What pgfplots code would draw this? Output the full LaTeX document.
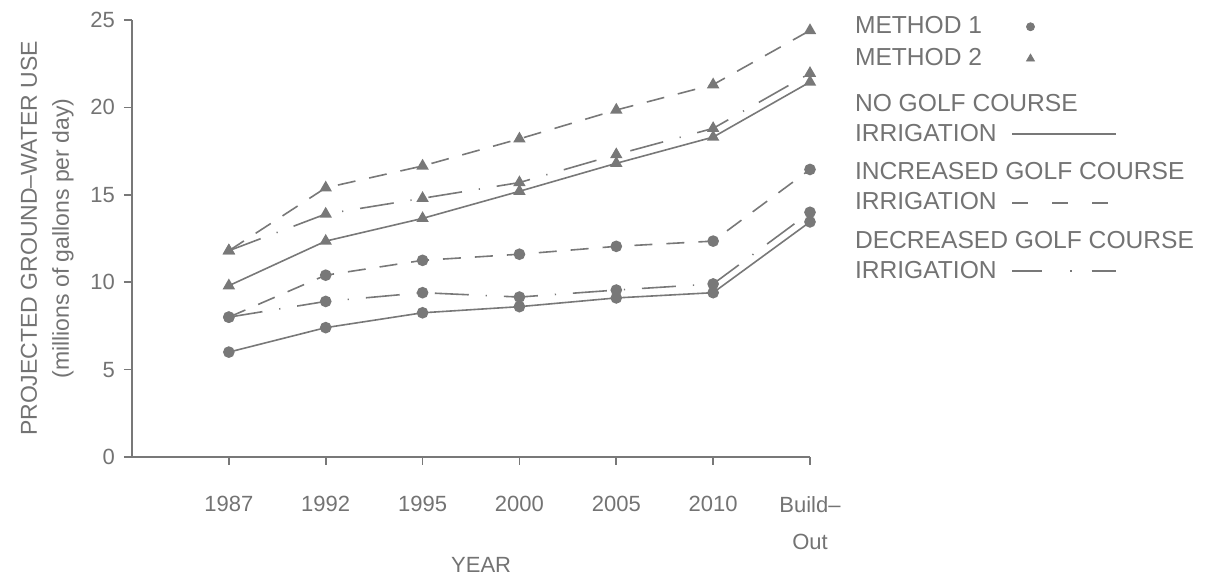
\documentclass[border=0pt]{standalone}
\usepackage{fontspec}
\setmainfont{Liberation Sans}
\usepackage{pgfplots}
\pgfplotsset{compat=1.18}
\definecolor{gcol}{RGB}{120,120,120}
\definecolor{tcol}{RGB}{115,115,115}
\begin{document}
\begin{tikzpicture}
\begin{axis}[
 name=ax,
 scale only axis, width=339pt, height=218.5pt,
 xmin=-1, xmax=6, ymin=0, ymax=25,
 axis lines*=left,
 axis line style={gcol, line width=1pt},
 every tick/.style={gcol, line width=0.8pt},
 tick align=outside, major tick length=4pt,
 xtick={0,...,6},
 xticklabels={1987,1992,1995,2000,2005,2010,{Build--\\Out}},
 ytick={0,5,10,15,20,25},
 /pgf/number format/assume math mode=true,
 ticklabel style={font=\fontsize{11}{18.5}\selectfont, text=tcol},
 xticklabel style={align=center, yshift=-12pt},
 yticklabel style={xshift=-1pt},
 xlabel={YEAR},
 xlabel style={at={(axis description cs:0.515,-0.247)}, anchor=center, font=\fontsize{11}{13}\selectfont, text=tcol},
 ylabel={PROJECTED GROUND--WATER USE\\(millions of gallons per day)},
 ylabel style={at={(axis description cs:-0.125,0.5)}, anchor=center, align=center, font=\fontsize{11.5}{16}\selectfont, text=tcol},
 clip=false,
 legend plot pos=right,
 legend cell align=left,
 legend style={at={(axis description cs:1.0664,1.012)}, anchor=north west, draw=none, fill=none,
   inner sep=0pt, outer sep=0pt, row sep=0pt, column sep=7.5pt,
   font=\fontsize{12.3}{15}\selectfont, text=tcol, nodes={inner sep=0pt, outer sep=0pt}},
]
% legend
\addlegendimage{legend image code/.code={\path (0pt,-5pt) (52pt,5pt); \draw[gcol, mark=*, mark size=2pt, mark options={fill=gcol}] plot coordinates {(9pt,0pt)};}}
\addlegendentry[minimum height=12pt]{METHOD 1}
\addlegendimage{legend image code/.code={\path (0pt,-5pt) (52pt,5pt); \draw[gcol, mark=triangle*, mark size=2.3pt, mark options={fill=gcol}] plot coordinates {(9pt,0pt)};}}
\addlegendentry[minimum height=20pt]{METHOD 2}
\addlegendimage{legend image code/.code={\path (0pt,7.5pt); \draw[gcol, line width=0.8pt] (0pt,-7.5pt) -- (52pt,-7.5pt);}}
\addlegendentry[minimum height=40.5pt, align=left]{\rlap{NO GOLF COURSE}\\IRRIGATION}
\addlegendimage{legend image code/.code={\path (0pt,7.5pt); \draw[gcol, line width=0.8pt, dash pattern=on 8pt off 12pt] (0pt,-7.5pt) -- (52pt,-7.5pt);}}
\addlegendentry[minimum height=28pt, align=left]{\rlap{INCREASED GOLF COURSE}\\IRRIGATION}
\addlegendimage{legend image code/.code={\path (0pt,7.5pt); \draw[gcol, line width=0.8pt, dash pattern=on 15pt off 14pt on 0.6pt off 10pt] (0pt,-7.5pt) -- (52pt,-7.5pt);}}
\addlegendentry[minimum height=40.5pt, align=left]{\rlap{DECREASED GOLF COURSE}\\IRRIGATION}
% Method 2 (triangles)
\addplot[forget plot, gcol, line width=0.8pt, dash pattern=on 9pt off 7pt, mark=triangle*, mark size=2.8pt, mark options={solid, fill=gcol}]
 coordinates {(0,11.8) (1,15.4) (2,16.65) (3,18.2) (4,19.85) (5,21.3) (6,24.4)};
\addplot[forget plot, gcol, line width=0.8pt, dash pattern=on 17pt off 8.5pt on 0.6pt off 8.5pt, mark=triangle*, mark size=2.8pt, mark options={solid, fill=gcol}]
 coordinates {(0,11.8) (1,13.9) (2,14.8) (3,15.7) (4,17.3) (5,18.8) (6,21.95)};
\addplot[forget plot, gcol, line width=0.8pt, mark=triangle*, mark size=2.8pt, mark options={solid, fill=gcol}]
 coordinates {(0,9.8) (1,12.35) (2,13.65) (3,15.2) (4,16.8) (5,18.3) (6,21.45)};
% Method 1 (circles)
\addplot[forget plot, gcol, line width=0.8pt, dash pattern=on 9pt off 7pt, mark=*, mark size=2.5pt, mark options={solid, fill=gcol}]
 coordinates {(0,8.0) (1,10.4) (2,11.25) (3,11.6) (4,12.05) (5,12.35) (6,16.45)};
\addplot[forget plot, gcol, line width=0.8pt, dash pattern=on 17pt off 8.5pt on 0.6pt off 8.5pt, mark=*, mark size=2.5pt, mark options={solid, fill=gcol}]
 coordinates {(0,8.0) (1,8.9) (2,9.4) (3,9.15) (4,9.55) (5,9.9) (6,14.0)};
\addplot[forget plot, gcol, line width=0.8pt, mark=*, mark size=2.5pt, mark options={solid, fill=gcol}]
 coordinates {(0,6.0) (1,7.4) (2,8.25) (3,8.6) (4,9.1) (5,9.4) (6,13.45)};
\end{axis}
\path ([xshift=-66pt,yshift=-61pt]ax.south west) rectangle ([xshift=203.5pt,yshift=10pt]ax.north east);
\end{tikzpicture}
\end{document}
